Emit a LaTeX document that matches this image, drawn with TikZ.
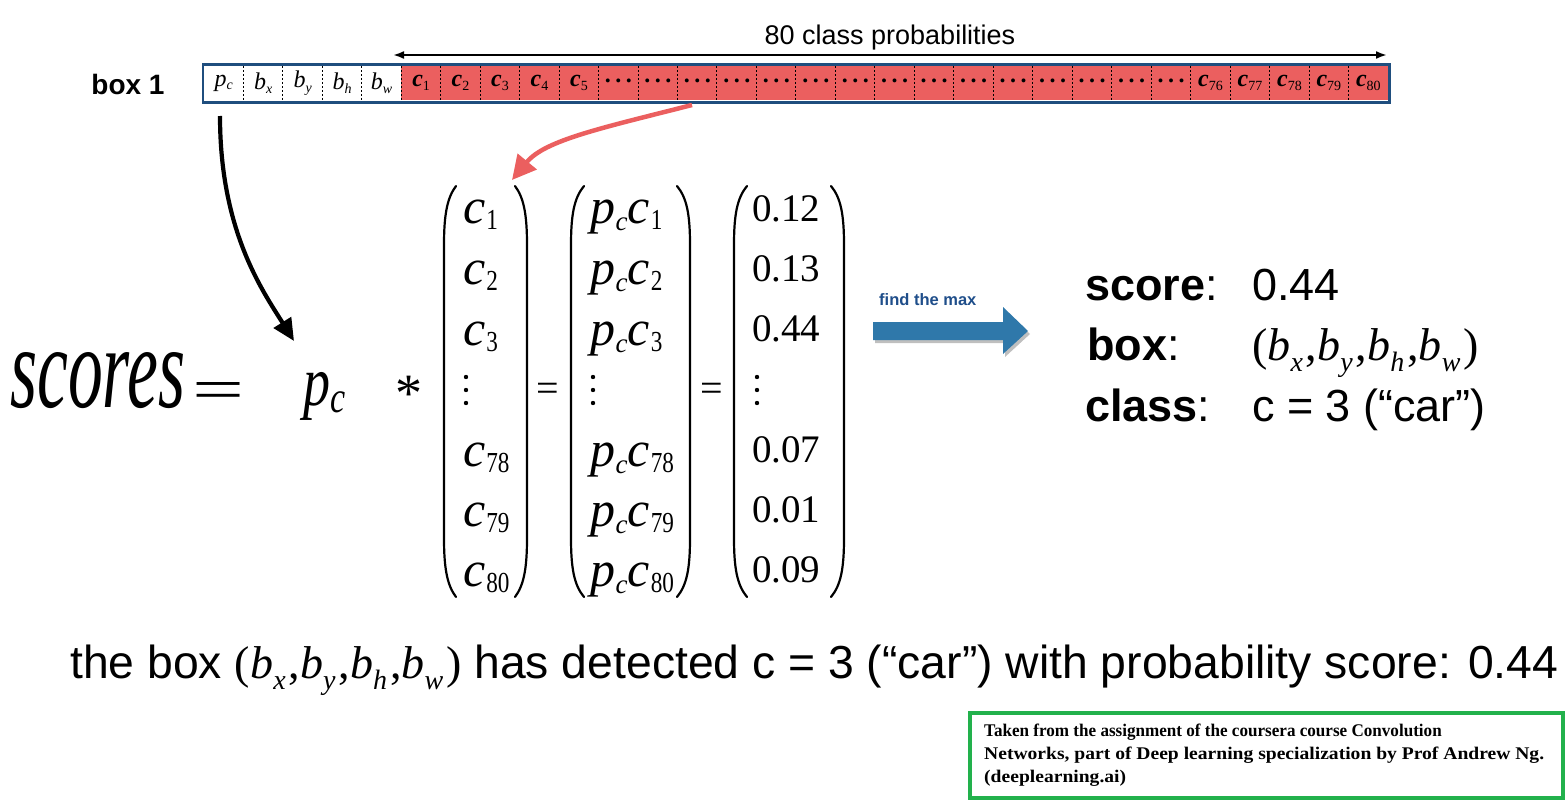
\documentclass[tikz,border=0pt]{standalone}
\usepackage{fontspec}
\setmainfont{Liberation Serif}
\newfontfamily\hv{Liberation Sans}
\usetikzlibrary{arrows.meta}
\definecolor{boxred}{HTML}{EB5F5F}
\definecolor{boxblue}{HTML}{1F4E7E}
\definecolor{arrblue}{HTML}{2F78AA}
\definecolor{txtblue}{HTML}{1F4E8A}
\definecolor{grn}{HTML}{22B14C}
\newcommand\fs[1]{\fontsize{#1}{#1}\selectfont}
\newcommand\sv[4]{{\itshape #1}\raisebox{-#4}{\fs{#3}#2}}
% matrix entry: letter with narrow, large subscript
\newcommand\mv[2]{{\itshape #1}\kern1pt\raisebox{-6pt}{\scalebox{0.8}[1]{\fs{29}#2}}}
\newcommand\pcm{{\itshape p}\kern0.5pt\raisebox{-7pt}{\fs{27}\itshape c}}
\newcommand\cb[1]{\sv{\bfseries c}{#1}{14}{4pt}}
\newcommand\dd{\raisebox{5pt}{\bfseries.\kern4.5pt.\kern4.5pt.}}
\newcommand\tb[1]{{\itshape b}\raisebox{-11pt}{\fs{28}\itshape #1}\kern3pt}
\newcommand\tup{{\rmfamily\fs{46}(\tb{x},\tb{y},\tb{h},\tb{w})}}
\begin{document}
\begin{tikzpicture}[x=1pt,y=-1pt,
  cell/.style={minimum width=39.47pt,minimum height=34pt,inner sep=0pt,font=\fs{24}},
  divider/.style={line width=0.9pt,dash pattern=on 2pt off 2pt},
  pline/.style={line width=2.2pt,line cap=round},
  ent/.style={anchor=base west,inner sep=0pt,font=\fs{50}},
  num/.style={anchor=base west,inner sep=0pt,font=\fs{39}},
  key/.style={anchor=base west,inner sep=0pt,font=\hv\fs{45}},
  credit/.style={anchor=base west,inner sep=0pt,font=\bfseries\fs{17.8}},
  vdot/.style={fill=black},
]
\useasboundingbox (0,0) rectangle (1567,808);

% ---- the box vector
\foreach \i/\t in {0/{\sv{p}{\itshape c}{14}{3pt}},1/{\sv{b}{\itshape x}{14}{4pt}},2/{\sv{b}{\itshape y}{14}{5pt}},3/{\sv{b}{\itshape h}{14}{4pt}},4/{\sv{b}{\itshape w}{14}{4pt}},
  5/{\cb{1}},6/{\cb{2}},7/{\cb{3}},8/{\cb{4}},9/{\cb{5}},
  10/\dd,11/\dd,12/\dd,13/\dd,14/\dd,15/\dd,16/\dd,17/\dd,18/\dd,19/\dd,20/\dd,21/\dd,22/\dd,23/\dd,24/\dd,
  25/{\cb{76}},26/{\cb{77}},27/{\cb{78}},28/{\cb{79}},29/{\cb{80}}}{
  \pgfmathsetmacro\xx{204+(\i+0.5)*39.47}
  \ifnum\i<5 \def\cc{white}\else\def\cc{boxred}\fi
  \node[cell,fill=\cc] (cell\i) at (\xx,83) {\t};
}
\foreach \i in {1,...,29}{\draw[divider] (cell\i.north west) -- (cell\i.south west);}
\draw[boxblue,line width=2.6pt] (203,64.5) rectangle (1389.5,102.5);
\node[anchor=base,inner sep=0pt,font=\hv\bfseries\fs{28}] (box1) at (128,95) {box 1};

% ---- 80 class probabilities
\coordinate (pl) at (393,55);
\coordinate (pr) at (1387,55);
\draw[line width=2pt,{Latex[length=11pt,width=8pt]}-{Latex[length=11pt,width=8pt]}] (pl) -- (pr);
\node[anchor=base,inner sep=0pt,font=\hv\fs{27}] (probs) at (890,45) {80 class probabilities};

% ---- formula
\node[anchor=base west,inner sep=0pt] (scores) at (10,407) {\resizebox{175pt}{55pt}{\itshape scores}};
\node[inner sep=0pt] (eq0) at (219,396) {\resizebox{52pt}{27pt}{=}};
\node[anchor=base west,inner sep=0pt] (pc) at (303,405) {\scalebox{1}[1.3]{\fs{54}{\itshape p}\raisebox{-6pt}{\fs{34}\itshape c}}};
\node[anchor=base,inner sep=0pt,font=\fs{54}] (star) at (409,411) {*};

% parentheses
\foreach \a/\b in {444/456,571/584,734/747}{
  \draw[pline] (\b,186) .. controls (\a+3,198) and (\a,215) .. (\a,245) -- (\a,538) .. controls (\a,568) and (\a+3,585) .. (\b,597);
}
\foreach \a/\b in {527/515,690/677,844/831}{
  \draw[pline] (\b,186) .. controls (\a-3,198) and (\a,215) .. (\a,245) -- (\a,538) .. controls (\a,568) and (\a-3,585) .. (\b,597);
}

% matrix 1
\node[ent] (a1) at (463,223) {\mv{c}{1}};
\node[ent] (a2) at (463,284) {\mv{c}{2}};
\node[ent] (a3) at (463,345) {\mv{c}{3}};
\node[ent] (a78) at (463,466) {\mv{c}{78}};
\node[ent] (a79) at (463,526) {\mv{c}{79}};
\node[ent] (a80) at (463,586) {\mv{c}{80}};
% matrix 2
\node[ent] (b1) at (590,223) {\pcm\mv{c}{1}};
\node[ent] (b2) at (590,284) {\pcm\mv{c}{2}};
\node[ent] (b3) at (590,345) {\pcm\mv{c}{3}};
\node[ent] (b78) at (590,466) {\pcm\mv{c}{78}};
\node[ent] (b79) at (590,526) {\pcm\mv{c}{79}};
\node[ent] (b80) at (590,586) {\pcm\mv{c}{80}};
% matrix 3
\node[num] (n1) at (752,221) {0.12};
\node[num] (n2) at (752,281) {0.13};
\node[num] (n3) at (752,341) {0.44};
\node[num] (n78) at (752,462) {0.07};
\node[num] (n79) at (752,522) {0.01};
\node[num] (n80) at (752,582) {0.09};
% vertical dots
\foreach \x in {466,593,757}{\foreach \y in {377,390,403}{\fill[vdot] (\x,\y) circle (2.2pt);}}
\node[anchor=base,inner sep=0pt,font=\fs{40}] (eq1) at (548,401) {=};
\node[anchor=base,inner sep=0pt,font=\fs{40}] (eq2) at (712,401) {=};

% ---- arrows
\coordinate (bstart) at (220,116);
\coordinate (bend) at (294,341);
\draw[line width=4.2pt,-{Triangle[length=22pt,width=20pt]}] (bstart) .. controls (220,230) and (262,290) .. (bend);
\coordinate (rstart) at (692,105);
\coordinate (rend) at (512,180);
\draw[boxred,line width=4.5pt,-{Triangle[length=24pt,width=24pt]}] (rstart) .. controls (602,128) and (545,140) .. (rend);

% ---- find the max
\node[anchor=base west,inner sep=0pt,font=\hv\bfseries\fs{16.5},text=txtblue] (fmax) at (879,305) {find the max};
\fill[black!25] (875,325) -- (1005,325) -- (1005,310) -- (1030,334) -- (1005,357) -- (1005,343) -- (875,343) -- cycle;
\fill[arrblue] (873,322) -- (1003,322) -- (1003,307) -- (1028,331) -- (1003,354) -- (1003,340) -- (873,340) -- cycle;

% ---- result
\node[key] (kscore) at (1085,300) {{\bfseries score}:};
\node[key] (vscore) at (1252,300) {0.44};
\node[key] (kbox) at (1087,360) {{\bfseries box}:};
\node[anchor=base west,inner sep=0pt] (vbox) at (1252,360) {\tup};
\node[key] (kclass) at (1085,421) {{\bfseries class}:};
\node[key] (vclass) at (1252,421) {c = 3 (“car”)};

% ---- summary line
\node[key,font=\hv\fs{46.3}] (summary) at (70,678) {the box \tup\ has detected c = 3 (“car”) with probability score: 0.44};

% ---- credit box
\draw[grn,line width=4pt] (970,713) rectangle (1563,798);
\node[credit] (cr1) at (984,736) {\scalebox{0.96}[1]{Taken from the assignment of the coursera course Convolution}};
\node[credit] (cr2) at (984,759) {\scalebox{1.1}[1]{Networks, part of Deep learning specialization by Prof Andrew Ng.}};
\node[credit] (cr3) at (984,782) {\scalebox{1.1}[1]{(deeplearning.ai)}};
\end{tikzpicture}
\end{document}
